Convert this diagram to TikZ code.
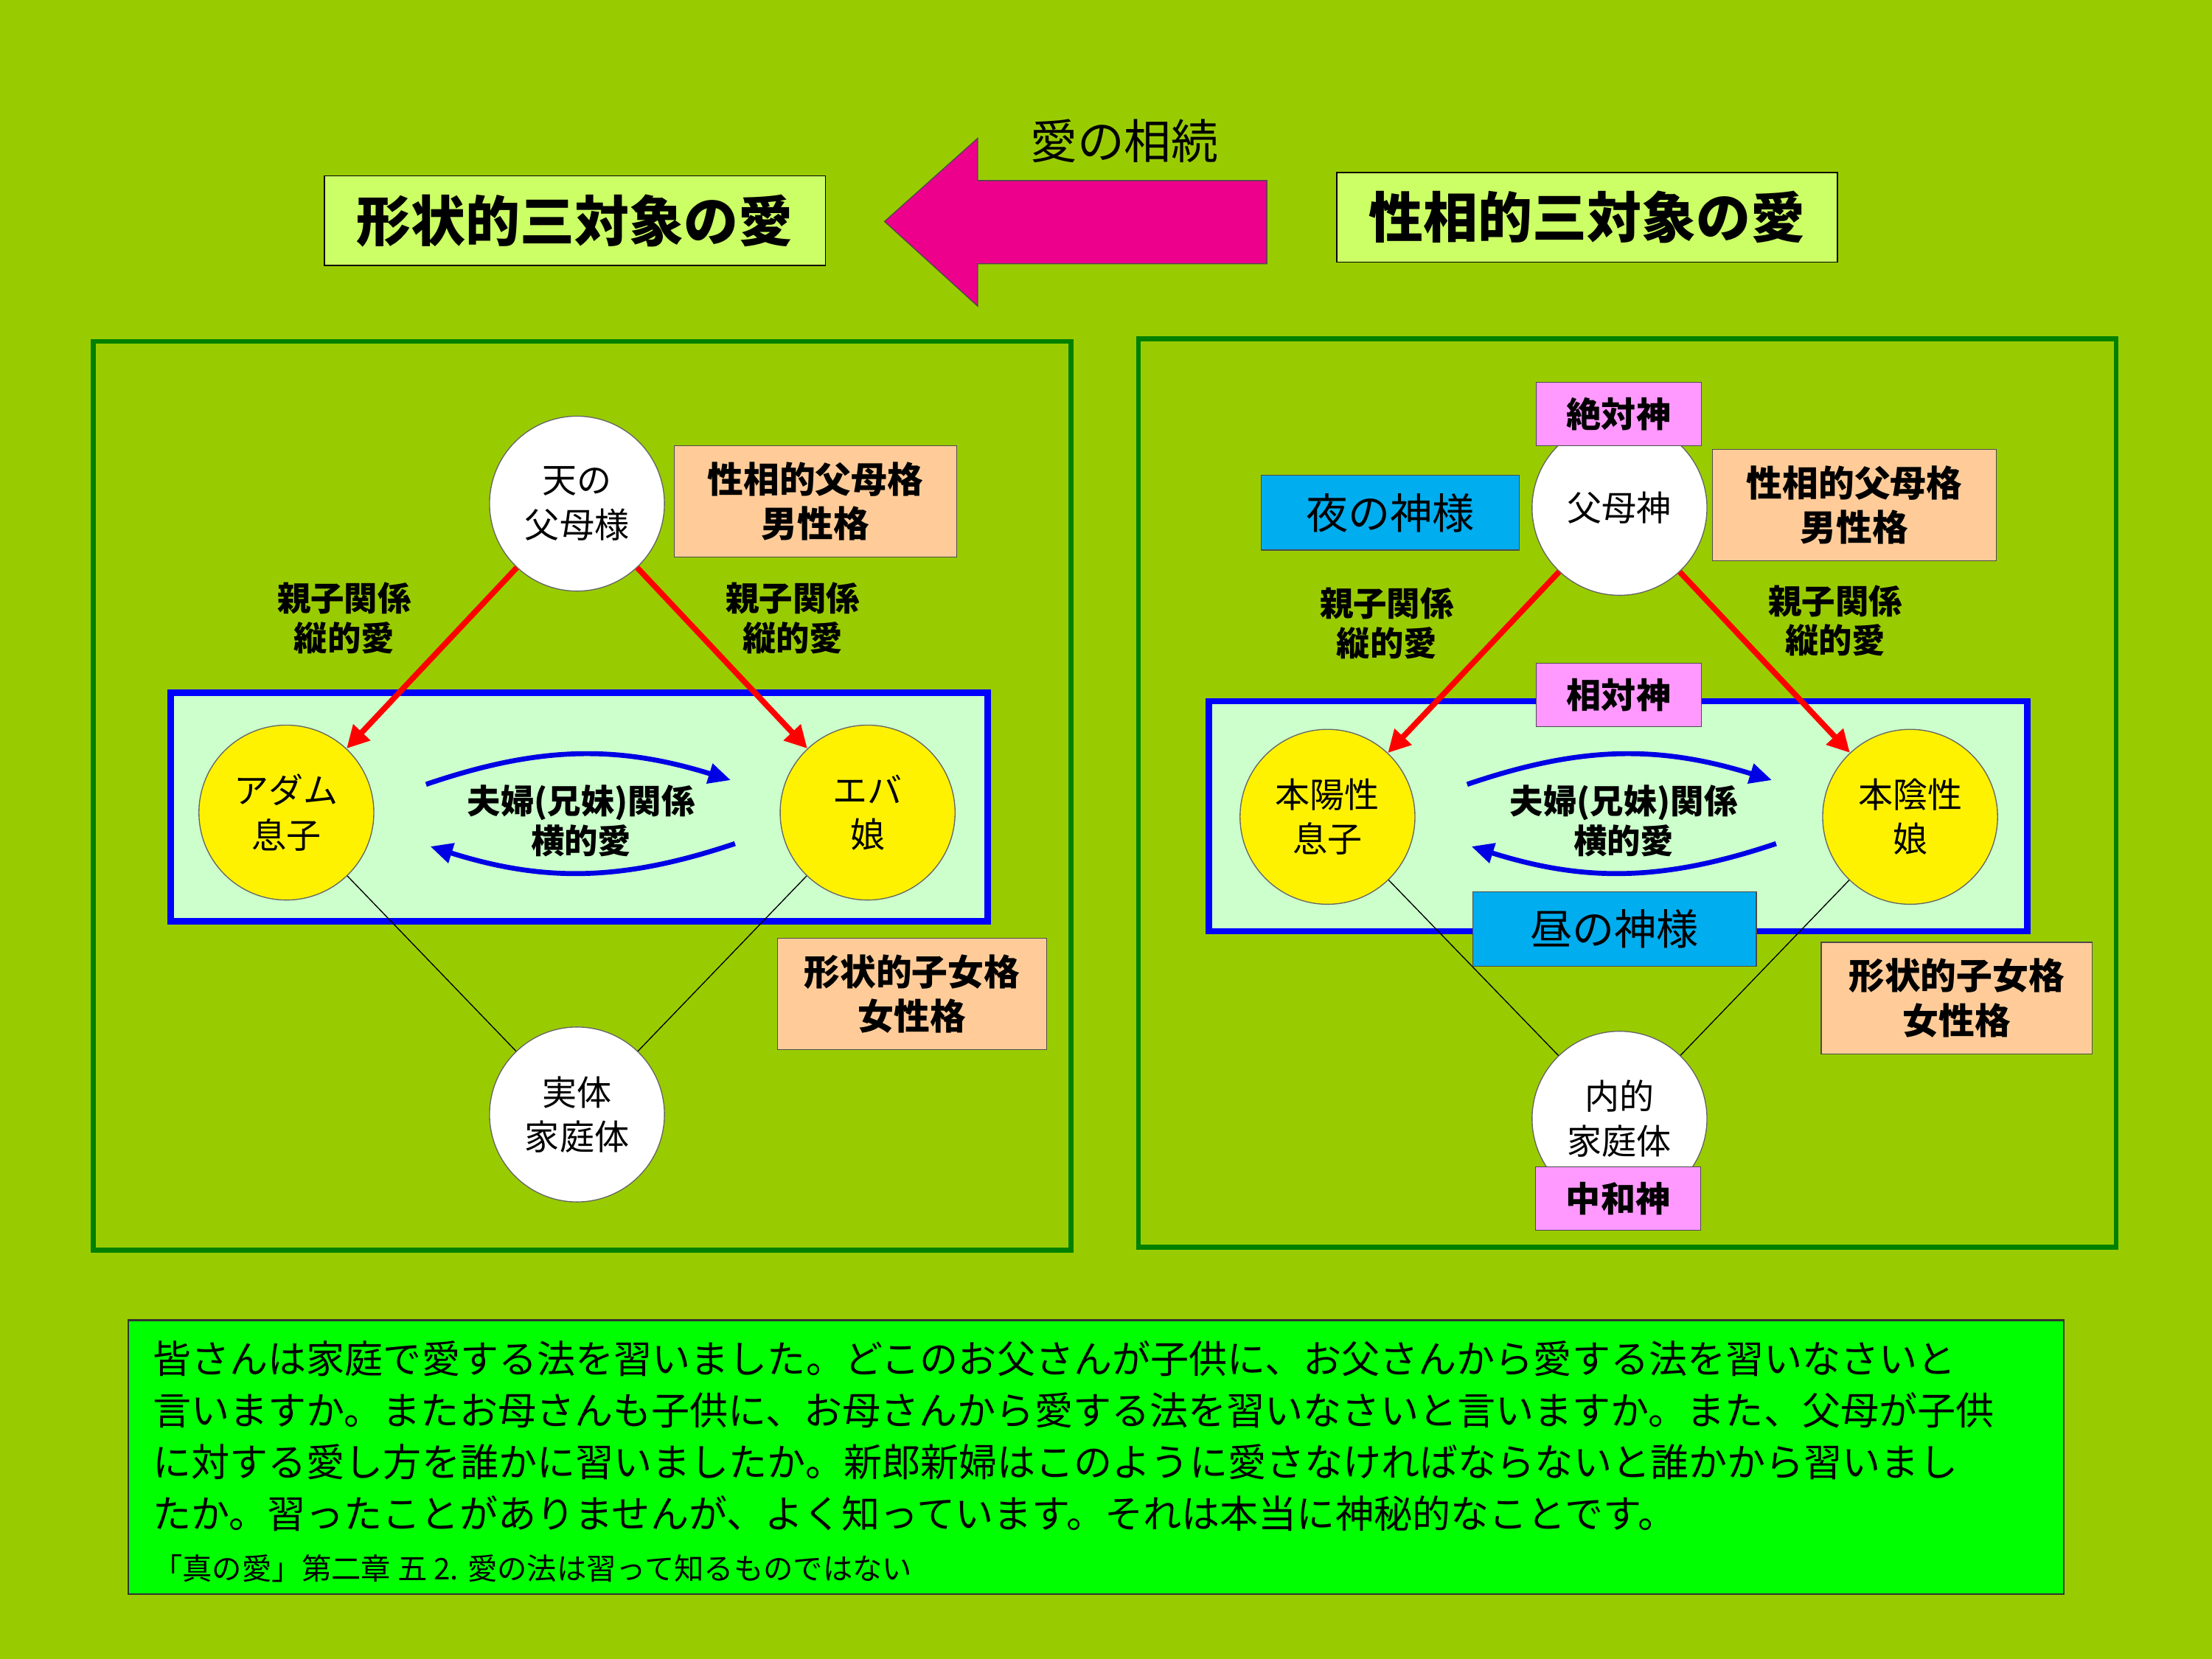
\documentclass[tikz,border=0pt]{standalone}
\usepackage{fontspec}
\setmainfont{Noto Sans CJK JP}
\usetikzlibrary{arrows.meta,positioning}
\definecolor{bg}{HTML}{99CC00}
\definecolor{titlefill}{HTML}{CCFF66}
\definecolor{panelline}{HTML}{008000}
\definecolor{orangefill}{HTML}{FFCC99}
\definecolor{pinkfill}{HTML}{FF99FF}
\definecolor{innerfill}{HTML}{CCFFCC}
\definecolor{notefill}{HTML}{00FF00}
\tikzset{
  titlebox/.style={draw=black,fill=titlefill,minimum width=7.1cm,minimum height=1.27cm,
    font=\fontsize{22}{26}\selectfont\bfseries},
  orangebox/.style={draw=black!70,fill=orangefill,minimum height=1.58cm,align=center,
    font=\fontsize{14.5}{18}\selectfont\bfseries},
  pinkbox/.style={draw=black!70,fill=pinkfill,minimum width=2.34cm,minimum height=0.9cm,
    font=\fontsize{14}{17}\selectfont\bfseries},
  cyanbox/.style={draw=black!70,fill=cyan,minimum height=1.06cm,
    font=\fontsize{17}{20}\selectfont},
  person/.style={circle,draw=black!60,minimum size=2.48cm,inner sep=0pt,align=center,
    font=\fontsize{14}{18}\selectfont},
  relation/.style={align=center,font=\fontsize{13.5}{16}\selectfont\bfseries},
  redarrow/.style={red,line width=2.3pt,-{Triangle[length=9pt,width=9pt]}},
  bluearrow/.style={blue!90!black,line width=2pt,-{Triangle[length=9pt,width=8pt]}},
}
\begin{document}
\begin{tikzpicture}[x=0.02cm,y=-0.02cm]
\fill[bg] (0,0) rectangle (1568,1176);
\useasboundingbox (0,0) rectangle (1568,1176);
% titles and arrow
\node[titlebox] (formal) at (407.5,156.5) {形状的三対象の愛};
\node[titlebox] (inner) at (1125,154) {性相的三対象の愛};
\draw[fill=magenta,draw=black!70] (627,157) -- (693,98) -- (693,128) -- (898,128)
  -- (898,187) -- (693,187) -- (693,217) -- cycle;
\node[font=\fontsize{19}{22}\selectfont] (inherit) at (797,100) {愛の相続};
% left panel
\draw[panelline,line width=2pt] (66,242) rectangle (759,886);
\draw[blue,line width=2.5pt,fill=innerfill] (121,491) rectangle (700,653);
\node[person,fill=white] (lparent) at (409,357) {天の\\父母様};
\node[person,fill=yellow] (adam) at (203,576) {アダム\\息子};
\node[person,fill=yellow] (eve) at (615,576) {エバ\\娘};
\node[person,fill=white] (lhome) at (409,790) {実体\\家庭体};
\node[orangebox,minimum width=4cm] (lmale) at (578,355.5) {性相的父母格\\男性格};
\node[orangebox,minimum width=3.82cm] (lfemale) at (646.5,704.5) {形状的子女格\\女性格};
\node[relation] (lvl) at (244,438) {親子関係\\縦的愛};
\node[relation] (lvr) at (562,438) {親子関係\\縦的愛};
\node[relation] (lhz) at (412,582) {夫婦(兄妹)関係\\横的愛};
\draw[redarrow] (lparent) -- (adam);
\draw[redarrow] (lparent) -- (eve);
\draw (adam) -- (lhome);
\draw (eve) -- (lhome);
\coordinate (la1) at (302,556); \coordinate (la2) at (518,553);
\coordinate (la3) at (521,598); \coordinate (la4) at (305,600);
\draw[bluearrow] (la1) to[bend left=18] (la2);
\draw[bluearrow] (la3) to[bend left=18] (la4);
% right panel
\draw[panelline,line width=2pt] (807,240) rectangle (1500,884);
\draw[blue,line width=2.5pt,fill=innerfill] (857,497) rectangle (1437,660);
\node[person,fill=white] (rparent) at (1148,360) {父母神};
\node[person,fill=yellow] (yang) at (941,579) {本陽性\\息子};
\node[person,fill=yellow] (yin) at (1354,579) {本陰性\\娘};
\node[person,fill=white] (rhome) at (1148,793) {内的\\家庭体};
\draw[redarrow] (rparent) -- (yang);
\draw[redarrow] (rparent) -- (yin);
\draw (yang) -- (rhome);
\draw (yin) -- (rhome);
\node[pinkbox] (absgod) at (1147.5,293.5) {絶対神};
\node[pinkbox] (relgod) at (1147.5,492.5) {相対神};
\node[pinkbox] (midgod) at (1147,849.5) {中和神};
\node[cyanbox,minimum width=3.66cm] (night) at (985.5,363.5) {夜の神様};
\node[cyanbox,minimum width=4.02cm] (day) at (1144.5,658.5) {昼の神様};
\node[orangebox,minimum width=4.02cm] (rmale) at (1314.5,358) {性相的父母格\\男性格};
\node[orangebox,minimum width=3.84cm] (rfemale) at (1387,707.5) {形状的子女格\\女性格};
\node[relation] (rvl) at (983,442) {親子関係\\縦的愛};
\node[relation] (rvr) at (1301,440) {親子関係\\縦的愛};
\node[relation] (rhz) at (1151,582) {夫婦(兄妹)関係\\横的愛};
\coordinate (ra1) at (1040,556); \coordinate (ra2) at (1256,553);
\coordinate (ra3) at (1259,598); \coordinate (ra4) at (1043,600);
\draw[bluearrow] (ra1) to[bend left=18] (ra2);
\draw[bluearrow] (ra3) to[bend left=18] (ra4);
% quotation
\draw[fill=notefill,draw=black!80,line width=0.8pt] (91,936) rectangle (1463,1130);
\node[anchor=north west,align=left,inner sep=0pt,font=\fontsize{15.5}{20.8}\selectfont] (quote) at (108,950)
{皆さんは家庭で愛する法を習いました。どこのお父さんが子供に、お父さんから愛する法を習いなさいと\\
言いますか。またお母さんも子供に、お母さんから愛する法を習いなさいと言いますか。また、父母が子供\\
に対する愛し方を誰かに習いましたか。新郎新婦はこのように愛さなければならないと誰かから習いまし\\
たか。習ったことがありませんが、よく知っています。それは本当に神秘的なことです。\\
{\fontsize{12}{14}\selectfont 「真の愛」第二章\ 五\ 2. 愛の法は習って知るものではない}};
\end{tikzpicture}
\end{document}
